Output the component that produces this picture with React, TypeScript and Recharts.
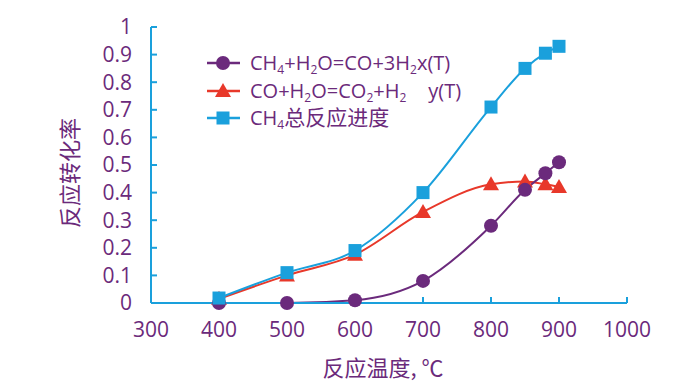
import React from "react";
import { LineChart, Line, XAxis, YAxis, Legend } from "recharts";

const temperatures = [400, 500, 600, 700, 800, 850, 880, 900];
const methaneReforming = [0, 0, 0.01, 0.08, 0.28, 0.41, 0.47, 0.51];
const waterGasShift = [0.015, 0.1, 0.175, 0.33, 0.43, 0.44, 0.43, 0.42];
const methaneTotal = [0.018, 0.11, 0.19, 0.4, 0.71, 0.85, 0.905, 0.93];
const xTicks = [300, 400, 500, 600, 700, 800, 900, 1000];
const yTicks = [0, 0.1, 0.2, 0.3, 0.4, 0.5, 0.6, 0.7, 0.8, 0.9, 1];

const data = temperatures.map((t, i) => ({
  t,
  x: methaneReforming[i],
  y: waterGasShift[i],
  z: methaneTotal[i],
}));

const PURPLE = "#6b2a7c";
const RED = "#e8382a";
const BLUE = "#1aa0dc";
const TEXT = "#6b2a7b";
const NUM_FONT = "'Open Sans', 'Noto Sans', sans-serif";
const CJK_FONT = "'Noto Sans CJK SC', sans-serif";

const Triangle = (props: any) => {
  const { cx, cy, index } = props;
  if (cx == null || cy == null) return null;
  const s = 8;
  return (
    <path
      key={`tri-${index}`}
      d={`M${cx},${cy - s} L${cx + s},${cy + s * 0.75} L${cx - s},${cy + s * 0.75} Z`}
      fill={RED}
    />
  );
};

const Square = (props: any) => {
  const { cx, cy, index } = props;
  if (cx == null || cy == null) return null;
  const s = 6.5;
  return <rect key={`sq-${index}`} x={cx - s} y={cy - s} width={2 * s} height={2 * s} fill={BLUE} />;
};

const sub = (t: string) => (
  <tspan fontSize={12} dy={4}>
    {t}
  </tspan>
);
const up = (t: string) => <tspan dy={-4}>{t}</tspan>;

const LegendContent = () => {
  const rowY = [63, 91, 118];
  const colors = [PURPLE, RED, BLUE];
  return (
    <svg width={300} height={140} style={{ position: "absolute", left: 0, top: 0, overflow: "visible" }}>
      {rowY.map((y, i) => (
        <line key={`l${i}`} x1={207} x2={240} y1={y} y2={y} stroke={colors[i]} strokeWidth={2.5} />
      ))}
      <circle cx={223} cy={rowY[0]} r={7} fill={PURPLE} />
      <path d={`M223,${rowY[1] - 8} L231,${rowY[1] + 6} L215,${rowY[1] + 6} Z`} fill={RED} />
      <rect x={216.5} y={rowY[2] - 6.5} width={13} height={13} fill={BLUE} />
      <text x={250} y={rowY[0] + 7} fill={TEXT} fontSize={20} fontFamily={NUM_FONT}>
        CH{sub("4")}
        {up("+H")}
        {sub("2")}
        {up("O=CO+3H")}
        {sub("2")}
        {up("x(T)")}
      </text>
      <text x={250} y={rowY[1] + 7} fill={TEXT} fontSize={20} fontFamily={NUM_FONT}>
        CO+H{sub("2")}
        {up("O=CO")}
        {sub("2")}
        {up("+H")}
        {sub("2")}
        <tspan dy={-4} dx={22}>y(T)</tspan>
      </text>
      <text x={250} y={rowY[2] + 7} fill={TEXT} fontSize={20} fontFamily={NUM_FONT}>
        CH{sub("4")}
        <tspan dy={-4} fontFamily={CJK_FONT} fontSize={21}>总反应进度</tspan>
      </text>
    </svg>
  );
};

export default function App() {
  return (
    <div style={{ position: "absolute", left: 0, top: 0, width: 700, height: 381, background: "#fff", overflow: "hidden" }}>
      <LineChart
        width={700}
        height={381}
        data={data}
        margin={{ top: 27, right: 73, bottom: 48, left: 91 }}
      >
        <XAxis
          dataKey="t"
          type="number"
          domain={[300, 1000]}
          ticks={xTicks}
          height={30}
          tickSize={-6}
          tickMargin={25}
          tick={{ fill: TEXT, fontSize: 21, fontFamily: NUM_FONT }}
          axisLine={{ stroke: BLUE, strokeWidth: 2 }}
          tickLine={{ stroke: BLUE, strokeWidth: 2 }}
        />
        <YAxis
          type="number"
          domain={[0, 1]}
          ticks={yTicks}
          width={60}
          tickSize={-6}
          tickMargin={25}
          tick={{ fill: TEXT, fontSize: 21, fontFamily: NUM_FONT }}
          axisLine={{ stroke: BLUE, strokeWidth: 2 }}
          tickLine={{ stroke: BLUE, strokeWidth: 2 }}
          interval={0}
        />
        <Legend content={LegendContent} wrapperStyle={{ position: "absolute", left: 0, top: 0, width: 0, height: 0 }} />
        <Line
          dataKey="y"
          type="monotone"
          stroke={RED}
          strokeWidth={2}
          dot={Triangle}
          activeDot={false}
          isAnimationActive={false}
        />
        <Line
          dataKey="x"
          type="monotone"
          stroke={PURPLE}
          strokeWidth={2}
          dot={{ r: 7, fill: PURPLE, stroke: PURPLE, strokeWidth: 0 }}
          activeDot={false}
          isAnimationActive={false}
        />
        <Line
          dataKey="z"
          type="monotone"
          stroke={BLUE}
          strokeWidth={2}
          dot={Square}
          activeDot={false}
          isAnimationActive={false}
        />
      </LineChart>
      <div
        style={{
          position: "absolute",
          left: 68,
          top: 173,
          transform: "translate(-50%, -50%) rotate(-90deg)",
          whiteSpace: "nowrap",
          fontFamily: CJK_FONT,
          fontSize: 22,
          color: TEXT,
          lineHeight: 1.2,
        }}
      >
        反应转化率
      </div>
      <div
        style={{
          position: "absolute",
          left: 383,
          top: 366,
          transform: "translate(-50%, -50%)",
          whiteSpace: "nowrap",
          fontFamily: CJK_FONT,
          fontSize: 22,
          color: TEXT,
          lineHeight: 1.2,
        }}
      >
        反应温度, ℃
      </div>
    </div>
  );
}
